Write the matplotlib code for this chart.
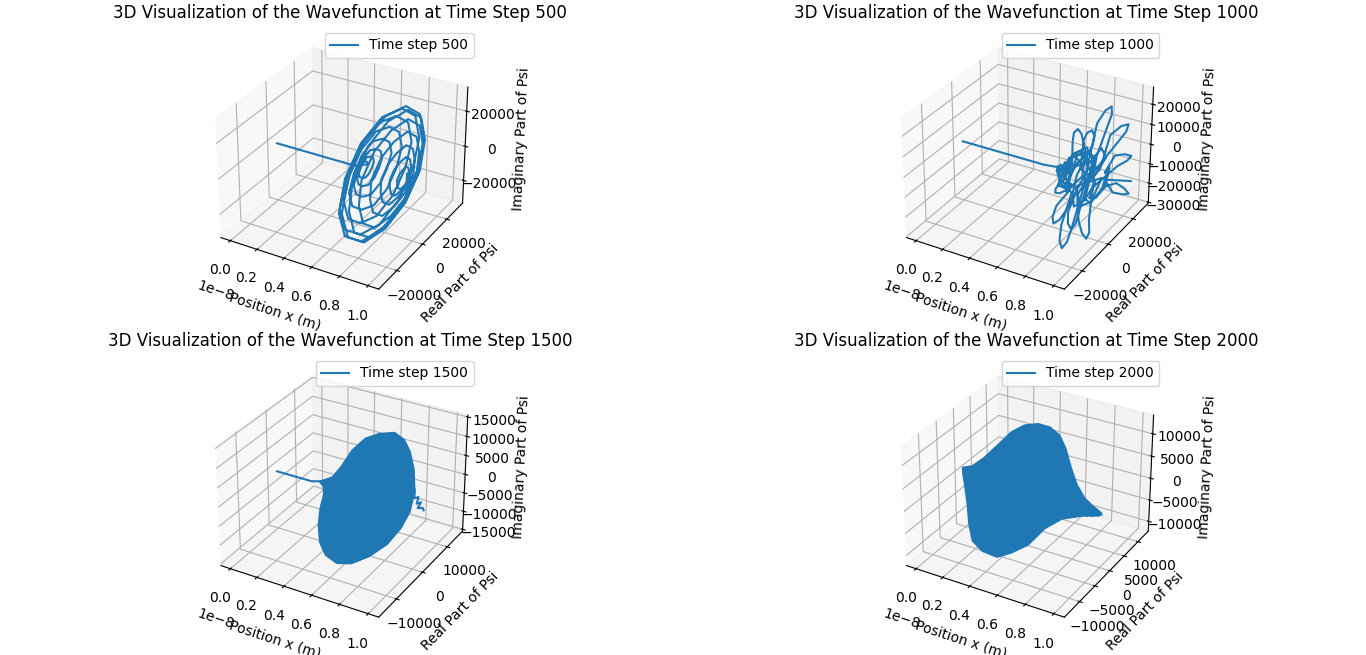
import matplotlib
matplotlib.use("Agg")
import matplotlib.pyplot as plt
import numpy as np

from mpl_toolkits.mplot3d.art3d import Poly3DCollection

# position in units of 1e-8 m, real and imaginary part in units of 1000
x_500 = [0, 0.3, 0.58,
    .640, .642, .644, .645, .647, .649, .651, .652, .654, .656, .658, .659,
    .661, .663, .665, .666, .668, .670, .672, .673, .675, .677, .679, .680,
    .682, .684, .686, .687, .689, .691, .693, .694, .696, .698, .700, .701,
    .703, .705, .707, .708, .710, .712, .714, .715, .717, .719, .721, .722,
    .724, .726, .728, .729, .731, .733, .735, .736, .738, .740, .742, .743,
    .745, .747, .749, .750, .752, .754, .756, .757, .759, .761, .763, .764,
    .766, .768, .770, .771, .773, .775, .777, .778, .780, .782, .784, .785,
    .787, .789, .791, .792, .794, .796, .798, .799, .801, .803, .805, .806,
    .808, .810, .812, .813, .815, .817, .819, .820, .822, .824, .826, .827,
    .829, .831, .833, .834, .836, .838, .840, .841, .843, .845, .847, .848,
    .850, .852, .854, .855, .857, .859, .861, .862, .864, .866, .868, .869,
    .871, .873, .875, .876, .878, .880, .882, .883, .885, .887, .889, .890,
    .892, .894, .896, .897, .899, .901, .903, .904, .906, .908, .910, .911,
    .913, .915, .917, .918, .920, .922, .924, .925, .927, .929, .931, .932,
    .934, .936, .938, .95, .98, 1.0]
re_500 = [0, 0, 0,
    3.2, 2.8, 1.6, 0, -1.9, -3.3, -4.4, -3.8, -2.2, 0, 2.6, 4.4,
    5.9, 5.1, 3, 0, -3.4, -5.9, -7.8, -6.8, -3.9, 0, 4.4, 7.7,
    9.9, 8.6, 5, 0, -5.6, -9.7, -12.4, -10.8, -6.2, 0, 6.9, 11.9,
    15.1, 13.1, 7.6, 0, -8.3, -14.4, -18, -15.7, -9, 0, 9.8, 17,
    21, 18.3, 10.5, 0, -11.3, -19.6, -23.9, -20.8, -12, 0, 12.6, 21.9,
    26.5, 23.1, 13.3, 0, -13.9, -24.1, -28.8, -25.1, -14.4, 0, 14.9, 25.9,
    30.5, 26.5, 15.3, 0, -15.6, -27.1, -31.6, -27.5, -15.8, 0, 16, 27.8,
    32, 27.8, 16, 0, -16, -27.8, -31.6, -27.5, -15.8, 0, 15.6, 27.1,
    30.5, 26.5, 15.3, 0, -14.9, -25.9, -28.8, -25.1, -14.4, 0, 13.9, 24.1,
    26.5, 23.1, 13.3, 0, -12.6, -21.9, -23.9, -20.8, -12, 0, 11.3, 19.6,
    21, 18.3, 10.5, 0, -9.8, -17, -18, -15.7, -9, 0, 8.3, 14.4,
    15.1, 13.1, 7.6, 0, -6.9, -11.9, -12.4, -10.8, -6.2, 0, 5.6, 9.7,
    9.9, 8.6, 5, 0, -4.4, -7.7, -7.8, -6.8, -3.9, 0, 3.4, 5.9,
    5.9, 5.1, 3, 0, -2.6, -4.4, -4.4, -3.8, -2.2, 0, 1.9, 3.3,
    3.2, 2.8, 1.6, 0, 0, 0]
im_500 = [0, 0, 0,
    0, 1.6, 2.8, 3.8, 3.3, 1.9, 0, -2.2, -3.8, -5.1, -4.4, -2.6,
    0, 3, 5.1, 6.8, 5.9, 3.4, 0, -3.9, -6.8, -8.8, -7.7, -4.4,
    0, 5, 8.6, 11.1, 9.7, 5.6, 0, -6.2, -10.8, -13.7, -11.9, -6.9,
    0, 7.6, 13.1, 16.6, 14.4, 8.3, 0, -9, -15.7, -19.5, -17, -9.8,
    0, 10.5, 18.3, 22.5, 19.6, 11.3, 0, -12, -20.8, -25.2, -21.9, -12.6,
    0, 13.3, 23.1, 27.7, 24.1, 13.9, 0, -14.4, -25.1, -29.8, -25.9, -14.9,
    0, 15.3, 26.5, 31.2, 27.1, 15.6, 0, -15.8, -27.5, -31.9, -27.8, -16,
    0, 16, 27.8, 31.9, 27.8, 16, 0, -15.8, -27.5, -31.2, -27.1, -15.6,
    0, 15.3, 26.5, 29.8, 25.9, 14.9, 0, -14.4, -25.1, -27.7, -24.1, -13.9,
    0, 13.3, 23.1, 25.2, 21.9, 12.6, 0, -12, -20.8, -22.5, -19.6, -11.3,
    0, 10.5, 18.3, 19.5, 17, 9.8, 0, -9, -15.7, -16.6, -14.4, -8.3,
    0, 7.6, 13.1, 13.7, 11.9, 6.9, 0, -6.2, -10.8, -11.1, -9.7, -5.6,
    0, 5, 8.6, 8.8, 7.7, 4.4, 0, -3.9, -6.8, -6.8, -5.9, -3.4,
    0, 3, 5.1, 5.1, 4.4, 2.6, 0, -2.2, -3.8, -3.8, -3.3, -1.9,
    0, 1.6, 2.8, 0, 0, 0]

x_1000 = [0, 0.3, 0.6,
    .700, .705, .710, .715, .720, .725, .730, .735, .740, .745,
    .750, .755, .760, .765, .770, .775, .780, .785, .790, .795,
    .800, .802, .803, .805, .806, .808, .810, .811, .812, .813, .814,
    .815, .817, .819, .821, .822, .824, .826, .827, .828, .829, .829,
    .830, .832, .834, .836, .837, .839, .841, .842, .843, .844, .844,
    .845, .847, .849, .851, .852, .854, .856, .856, .857, .858, .859,
    .860, .864, .866, .868, .869, .872, .874, .875, .876, .877, .878,
    .880, .884, .886, .888, .889, .892, .894, .895, .896, .897, .898,
    .900, .904, .906, .908, .909, .912, .914, .915, .916, .917, .918,
    .920, .924, .926, .928, .929, .932, .934, .935, .936, .937, .938,
    .940, .944, .946, .948, .949, .952, .954, .955, .956, .957, .958,
    .960, .964, .966, .968, .969, .972, .974, .975, .976, .977, .978,
    .980, .984, .986, .988, .989, .992, .996, 1.0]
re_1000 = [0, 0, 0,
    1, 0, -1.5, 0, 2, 0, -3, -1, 3, 1,
    -4.5, -2, 5, 2, -6, -3, 8, 2, -9, -1,
    .5, -7.5, -11.9, -12.2, -9.2, -2.7, 7.4, 9, 5, -1, -7,
    -2.4, -12.7, -15.6, -15.1, -10.8, -6.4, 8.4, 10, 6, -2, -9,
    1.4, -5.4, -5.6, -3.4, -.2, 2, 8.1, 12, 7, -3, -11,
    -4.3, -12, -13.4, -11.8, -8, -4.5, 3.8, 13, 8, -2, -10,
    -5.9, -6.2, -5.6, -2.9, -.2, 1.1, -1.1, 8, 11, 4, -6,
    3.9, -.5, 2.2, 5.7, 7.6, 6.1, -5.9, -9, -8, 0, 8,
    1.6, 7.7, 13.8, 18.4, 18.7, 14.4, 2.6, -7, -6, 3, 11,
    -8.6, -7.2, -4.6, -1.4, .8, 0, 3.1, 12, 8, -2, -6,
    6.8, 14, 22.5, 28.2, 26.3, 19.2, -1.9, -6, -2, 7, 12,
    8.5, 15.7, 23.5, 29.2, 25.7, 17.4, -1.4, -5, 0, 7, 10,
    6.3, 15.3, 21.9, 25.7, 20.3, 11.7, 4.5, 25.7]
im_1000 = [0, 0, 0,
    0, 1.5, 0, -2, 0, 2.5, 0, -3, .5, 3.5,
    0, -4.5, 0, 5.5, -1, -6, 1, 7, -1, -8,
    -7.3, .3, -.7, -2.4, -4.5, -6.4, -6.3, 2, 8, 9, 5,
    -6.8, -8.4, -12, -15.5, -16.5, -14.8, -4.9, -3, 6, 10, 4,
    -8.9, -15.8, -21.4, -25.8, -25.3, -21.1, -9.6, 0, 9, 12, 3,
    -6.6, -17.8, -24.7, -29.6, -28.9, -23.4, -8.2, -4, 7, 11, -2,
    10.5, 19.9, 23.9, 24.2, 20.4, 15.3, 4, -6, 2, 9, 8,
    4.4, 17.3, 19.8, 19.1, 15.3, 11.8, 4.2, -3, -10, -12, -8,
    4.5, 21.6, 24.5, 24, 20, 15.3, .8, -4, -11, -14, -7,
    1.1, -17.1, -25, -30, -28.1, -20.9, -.9, 3, 10, 8, -1,
    .3, 13.2, 12.8, 10.5, 7.9, 6.7, 2.7, -6, -11, -9, -1,
    -2.1, 2.3, -1.5, -5.7, -6, -3.7, -2.4, -6, -9, -8, 0,
    -7.2, -10.9, -17.6, -22.7, -19.7, -13.3, -2.3, -15.9]

# curve of step 1500 outside the dense coil, then the coil's outer edge
x_1500 = [0, 0.15, 0.26, 0.32, 0.36]
re_1500 = [0, 0, 0, 0, 2.6]
im_1500 = [0, 0, 0, 0.6, 0]
x_1500_tail = [0.78, 0.88, 0.90, 0.92, 0.94, 0.96, 0.98, 1.0]
re_1500_tail = [12.6, 6.9, 7.4, 5.6, 6.2, 3.8, 4.6, 3.9]
im_1500_tail = [-4.6, -2.4, -2.2, -2.6, -2.4, -2.2, -2.4, -2.4]
x_1500_edge = [0.32, 0.36, 0.40, 0.45, 0.52, 0.58, 0.64, 0.68, 0.72, 0.76, 0.78, 0.78, 0.76, 0.74,
    0.70, 0.64, 0.57, 0.50, 0.46, 0.42, 0.39, 0.37, 0.35]
re_1500_edge = [0, 2.6, 3.8, 5.4, 6.7, 8.8, 11.5, 13.2, 13.4, 12.9, 12.3, 10.5, 8.2, 3.8,
    -0.9, -4.4, -6.2, -6.8, -6.9, -5.4, -3.3, -1.1, 0]
im_1500_edge = [0.6, 0.6, 3, 6.9, 9.9, 10.5, 9.8, 7.3, 4.4, 0.4, -5, -9.3, -12.4, -14.2,
    -14.7, -14.9, -14.4, -12.6, -9.5, -6.5, -3.7, -1.8, -0.4]

x_2000_tail = [0.80, 0.84, 0.86, 0.88, 0.90, 0.92, 0.94, 0.96, 0.98, 1.0]
re_2000_tail = [4, 2, 0, 1.5, 0, 1, -0.3, 0.6, -0.2, 0.2]
im_2000_tail = [-4.1, -0.4, -1.8, -0.6, -1.5, -0.4, -1, -0.2, -0.6, -0.4]
x_2000_edge = [0, 0.02, 0.07, 0.12, 0.18, 0.24, 0.30, 0.36, 0.42, 0.46, 0.52, 0.60, 0.68, 0.80,
    0.98, 0.90, 0.80, 0.68, 0.58, 0.48, 0.42, 0.36, 0.26, 0.18, 0.10, 0.06, 0.02, 0]
re_2000_edge = [-0.6, 1.4, 3, 5.4, 7.2, 8.9, 10.7, 12, 12.6, 12.9, 11.9, 10.4, 9.4, 6.5,
    0.9, 2.8, 2.9, 1.8, 0.7, -0.4, -3.3, -5.1, -5.5, -5.2, -3, -1.8, -0.9, -0.6]
im_2000_edge = [1.9, 1.2, 2.5, 4.5, 6.9, 8, 7.8, 6.8, 5.1, 2.2, -0.8, -3.4, -5.2, -4.1,
    -0.6, -3.1, -4.1, -5.2, -7.6, -11.7, -12.2, -12.5, -11.8, -10.4, -8.6, -5.2, -1.5, 0.8]

steps = [500, 1000, 1500, 2000]
re_limits = [(-33.5, 33.5), (-33, 33), (-16.5, 16.5), (-14.8, 13.8)]
im_limits = [(-33.5, 33.5), (-30.5, 28.5), (-15.5, 15.5), (-12.3, 14.1)]
curves = [(x_500, re_500, im_500), (x_1000, re_1000, im_1000),
          (x_1500 + x_1500_tail, re_1500 + re_1500_tail, im_1500 + im_1500_tail),
          (x_2000_tail, re_2000_tail, im_2000_tail)]
edges = [None, None, (x_1500_edge, re_1500_edge, im_1500_edge),
         (x_2000_edge, re_2000_edge, im_2000_edge)]

fig = plt.figure(figsize=(13.66, 6.55), dpi=100)
fig.subplots_adjust(left=0, right=1, wspace=0.008, top=0.9605, bottom=0.0307, hspace=0.1674)

for i, step in enumerate(steps):
    ax = fig.add_subplot(2, 2, i + 1, projection="3d")
    x, re, im = [np.array(v, dtype=float) for v in curves[i]]
    ax.plot(x * 1e-8, re * 1000, im * 1000, label="Time step {}".format(step))
    if edges[i] is not None:
        ex, ere, eim = [np.array(v, dtype=float) for v in edges[i]]
        verts = list(zip(ex * 1e-8, ere * 1000, eim * 1000))
        ax.add_collection3d(Poly3DCollection([verts], facecolor="C0", edgecolor="C0", linewidth=1.5))
    ax.set_ylim(re_limits[i][0] * 1000, re_limits[i][1] * 1000)
    ax.set_zlim(im_limits[i][0] * 1000, im_limits[i][1] * 1000)
    ax.set_xlabel("Position x (m)")
    ax.set_ylabel("Real Part of Psi")
    ax.set_zlabel("Imaginary Part of Psi")
    ax.set_title("3D Visualization of the Wavefunction at Time Step {}".format(step), pad=6)
    ax.legend()

plt.savefig("out.png", dpi=100)
